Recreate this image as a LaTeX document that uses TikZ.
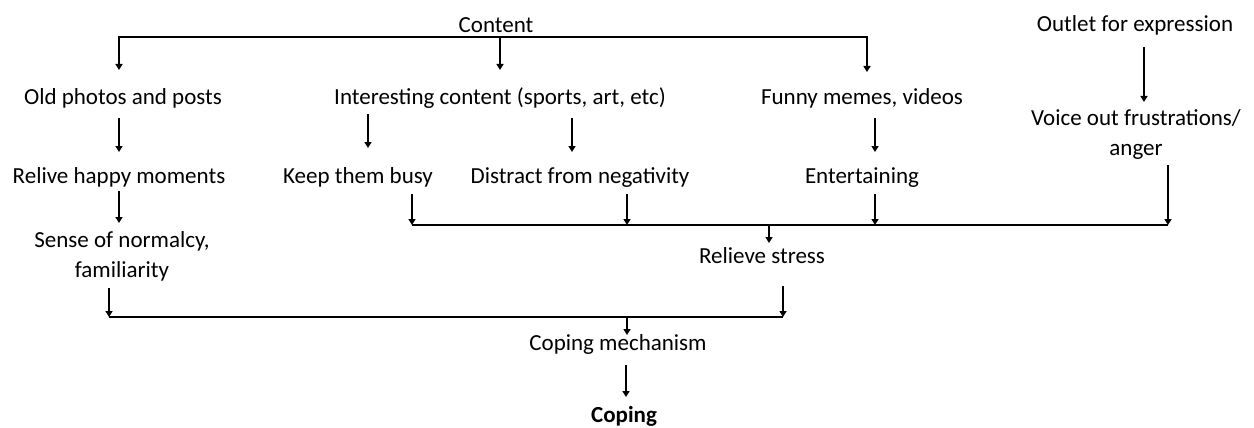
\documentclass[tikz,border=0pt]{standalone}
\usepackage{fontspec}
\setmainfont{Carlito}
\usetikzlibrary{arrows.meta}
\begin{document}
\begin{tikzpicture}[x=1pt,y=-1pt,
  lbl/.style={inner sep=0pt,anchor=base,align=center,font=\fontsize{23}{29.5}\selectfont},
  arr/.style={line width=1.6pt,-{Triangle[width=7pt,length=6pt]}},
  barr/.style={line width=1.6pt,{Triangle[width=7pt,length=6pt]}-{Triangle[width=7pt,length=6pt]}},
  bus/.style={line width=1.6pt}]
\useasboundingbox (0,0) rectangle (1254,428);

% text nodes (positioned at the baseline of their last line)
\node[lbl] (content) at (496,33) {Content};
\node[lbl] (outlet) at (1135,32) {Outlet for expression};
\node[lbl] (old) at (123,105) {Old photos and posts};
\node[lbl] (interesting) at (500,105) {Interesting content (sports, art, etc)};
\node[lbl] (funny) at (862,105) {Funny memes, videos};
\node[lbl] (voice) at (1136,155) {Voice out frustrations/\\anger};
\node[lbl] (relive) at (119,183) {Relive happy moments};
\node[lbl] (keep) at (358,183) {Keep them busy};
\node[lbl] (distract) at (580,183) {Distract from negativity};
\node[lbl] (entertaining) at (862,183) {Entertaining};
\node[lbl] (sense) at (122,277) {Sense of normalcy,\\familiarity};
\node[lbl] (relieve) at (762,263) {Relieve stress};
\node[lbl] (mech) at (618,350) {Coping mechanism};
\node[lbl,font=\fontsize{23}{29.5}\selectfont\bfseries] (coping) at (624,422) {Coping};

% connector end points
\coordinate (tbL) at (119,37);
\coordinate (tbM) at (500,37);
\coordinate (tbR) at (867,37);
\coordinate (oldIn) at (119,70);
\coordinate (intIn) at (500,70);
\coordinate (funIn) at (867,72);

\coordinate (oldOut) at (119,118);
\coordinate (reliveIn) at (119,152);
\coordinate (intOutA) at (368,114);
\coordinate (keepIn) at (368,148);
\coordinate (intOutB) at (572,118);
\coordinate (distractIn) at (572,152);
\coordinate (funOut) at (875,118);
\coordinate (entIn) at (875,152);
\coordinate (outletOut) at (1144,47);
\coordinate (voiceIn) at (1144,102);
\coordinate (reliveOut) at (119,191);
\coordinate (senseIn) at (119,223);

\coordinate (keepOut) at (412,194);
\coordinate (mbL) at (412,225);
\coordinate (distractOut) at (627,194);
\coordinate (mbD) at (627,225);
\coordinate (entOut) at (875,194);
\coordinate (mbE) at (875,225);
\coordinate (voiceOut) at (1168,165);
\coordinate (mbR) at (1168,225);
\coordinate (mbM) at (769,225);
\coordinate (relieveIn) at (769,243);

\coordinate (senseOut) at (109,288);
\coordinate (bbL) at (109,317);
\coordinate (relieveOut) at (783,286);
\coordinate (bbR) at (783,317);
\coordinate (bbM) at (627,317);
\coordinate (mechIn) at (627,335);
\coordinate (mechOut) at (626,365);
\coordinate (copingIn) at (626,397);

% Content splits into three kinds of posts
\draw[barr] (oldIn) -- (tbL) -- (tbR) -- (funIn);
\draw[arr] (tbM) -- (intIn);

% second level
\draw[arr] (oldOut) -- (reliveIn);
\draw[arr] (intOutA) -- (keepIn);
\draw[arr] (intOutB) -- (distractIn);
\draw[arr] (funOut) -- (entIn);
\draw[arr] (outletOut) -- (voiceIn);
\draw[arr] (reliveOut) -- (senseIn);

% everything that relieves stress
\draw[bus] (mbL) -- (mbR);
\draw[arr] (keepOut) -- (mbL);
\draw[arr] (distractOut) -- (mbD);
\draw[arr] (entOut) -- (mbE);
\draw[arr] (voiceOut) -- (mbR);
\draw[arr] (mbM) -- (relieveIn);

% coping
\draw[bus] (bbL) -- (bbR);
\draw[arr] (senseOut) -- (bbL);
\draw[arr] (relieveOut) -- (bbR);
\draw[arr] (bbM) -- (mechIn);
\draw[arr] (mechOut) -- (copingIn);
\end{tikzpicture}
\end{document}
